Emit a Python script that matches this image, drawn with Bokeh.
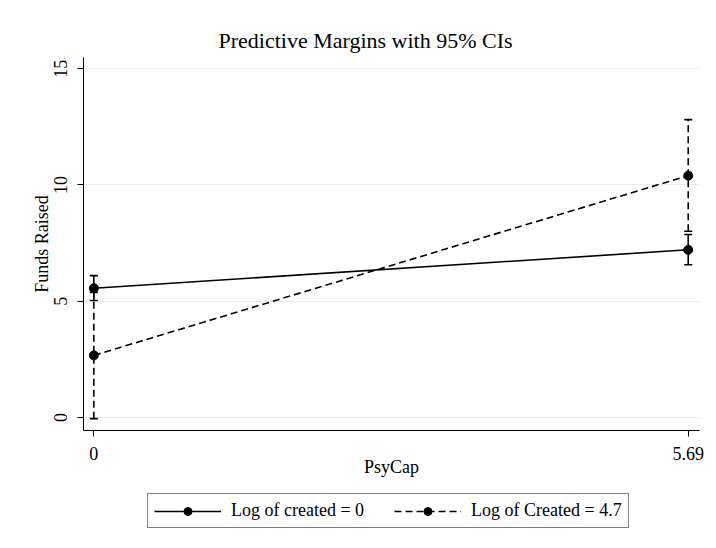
from bokeh.plotting import figure
from bokeh.layouts import column
from bokeh.models import (ColumnDataSource, Whisker, TeeHead, FixedTicker, Legend,
                          LegendItem, Range1d)
from bokeh.embed import file_html
from bokeh.resources import INLINE

# ---- data ----
psycap = [0, 5.69]
x_tick_labels = {0: "0", 5.69: "5.69"}
y_ticks = [0, 5, 10, 15]

created0_margin = [5.56, 7.21]
created0_lower = [5.03, 6.57]
created0_upper = [6.10, 7.87]

created47_margin = [2.67, 10.40]
created47_lower = [-0.05, 8.01]
created47_upper = [5.38, 12.81]

label0 = "Log of created = 0"
label47 = "Log of Created = 4.7"

FONT = "Liberation Serif"

p = figure(width=712, height=486, output_backend="svg", toolbar_location=None,
           x_range=Range1d(-0.099, 5.798), y_range=Range1d(-0.56, 15.48),
           min_border_left=83, min_border_right=13, min_border_top=57,
           min_border_bottom=56)
p.outline_line_color = None
p.background_fill_color = "white"
p.border_fill_color = "white"

# title
p.title.text = "Predictive Margins with 95% CIs"
p.title.text_font = FONT
p.title.text_font_size = "22px"
p.title.text_font_style = "normal"
p.title.text_color = "black"
p.title.align = "left"
p.title.offset = 135

# grids
p.xgrid.grid_line_color = None
p.ygrid.grid_line_color = "#e6eeee"
p.ygrid.grid_line_width = 1
p.ygrid.ticker = FixedTicker(ticks=y_ticks)

# axes
for ax in (p.xaxis[0], p.yaxis[0]):
    ax.axis_line_color = "black"
    ax.axis_line_width = 1
    ax.major_tick_line_color = "black"
    ax.major_tick_out = 6
    ax.major_tick_in = 0
    ax.minor_tick_line_color = None
    ax.major_label_text_font = FONT
    ax.major_label_text_font_size = "18px"
    ax.major_label_text_color = "black"
    ax.axis_label_text_font = FONT
    ax.axis_label_text_font_size = "18px"
    ax.axis_label_text_font_style = "normal"
    ax.axis_label_text_color = "black"

p.xaxis.ticker = FixedTicker(ticks=psycap)
p.xaxis.major_label_overrides = x_tick_labels
p.xaxis.axis_label = "PsyCap"
p.xaxis.major_label_standoff = 10
p.xaxis.axis_label_standoff = -6

p.yaxis.ticker = FixedTicker(ticks=y_ticks)
p.yaxis.major_label_orientation = "vertical"
p.yaxis.axis_label = "Funds Raised"
p.yaxis.major_label_standoff = 10
p.yaxis.axis_label_standoff = 0

src0 = ColumnDataSource(dict(x=psycap, y=created0_margin, lo=created0_lower, up=created0_upper))
src1 = ColumnDataSource(dict(x=psycap, y=created47_margin, lo=created47_lower, up=created47_upper))

LW = 1.6
DASH = "7 4"

w0 = Whisker(base="x", lower="lo", upper="up", source=src0, line_color="black", line_width=LW,
             upper_head=TeeHead(size=8, line_color="black", line_width=LW),
             lower_head=TeeHead(size=8, line_color="black", line_width=LW))
w1 = Whisker(base="x", lower="lo", upper="up", source=src1, line_color="black", line_width=LW,
             line_dash=DASH,
             upper_head=TeeHead(size=8, line_color="black", line_width=LW),
             lower_head=TeeHead(size=8, line_color="black", line_width=LW))
p.add_layout(w0)
p.add_layout(w1)

p.line("x", "y", source=src0, line_color="black", line_width=LW)
p.scatter("x", "y", source=src0, size=9, color="black")
p.line("x", "y", source=src1, line_color="black", line_width=LW, line_dash=DASH)
p.scatter("x", "y", source=src1, size=9, color="black")

# ---- legend strip below the chart (same series, drawn off-view; only the key shows) ----
lf = figure(width=712, height=54, output_backend="svg", toolbar_location=None,
            x_range=Range1d(100, 101), y_range=Range1d(100, 101),
            min_border=0, x_axis_location=None, y_axis_location=None)
lf.outline_line_color = None
lf.xgrid.grid_line_color = None
lf.ygrid.grid_line_color = None
lf.border_fill_color = "white"
lf.background_fill_color = "white"

k0l = lf.line("x", "y", source=src0, line_color="black", line_width=LW)
k0m = lf.scatter("x", "y", source=src0, size=9, color="black")
k1l = lf.line("x", "y", source=src1, line_color="black", line_width=LW, line_dash=DASH)
k1m = lf.scatter("x", "y", source=src1, size=9, color="black")

legend = Legend(items=[LegendItem(label=label0, renderers=[k0l, k0m]),
                       LegendItem(label=label47, renderers=[k1l, k1m])],
                orientation="horizontal", location=(64, 12))
legend.label_text_font = FONT
legend.label_text_font_size = "18px"
legend.label_text_color = "black"
legend.glyph_width = 67
legend.glyph_height = 20
legend.label_standoff = 10
legend.spacing = 30
legend.padding = 6
legend.margin = 0
legend.border_line_color = "black"
legend.border_line_width = 1
legend.background_fill_color = "white"
legend.background_fill_alpha = 1
lf.add_layout(legend, "center")

layout = column(p, lf, spacing=0)
open("out.html", "w").write(file_html(layout, INLINE))
